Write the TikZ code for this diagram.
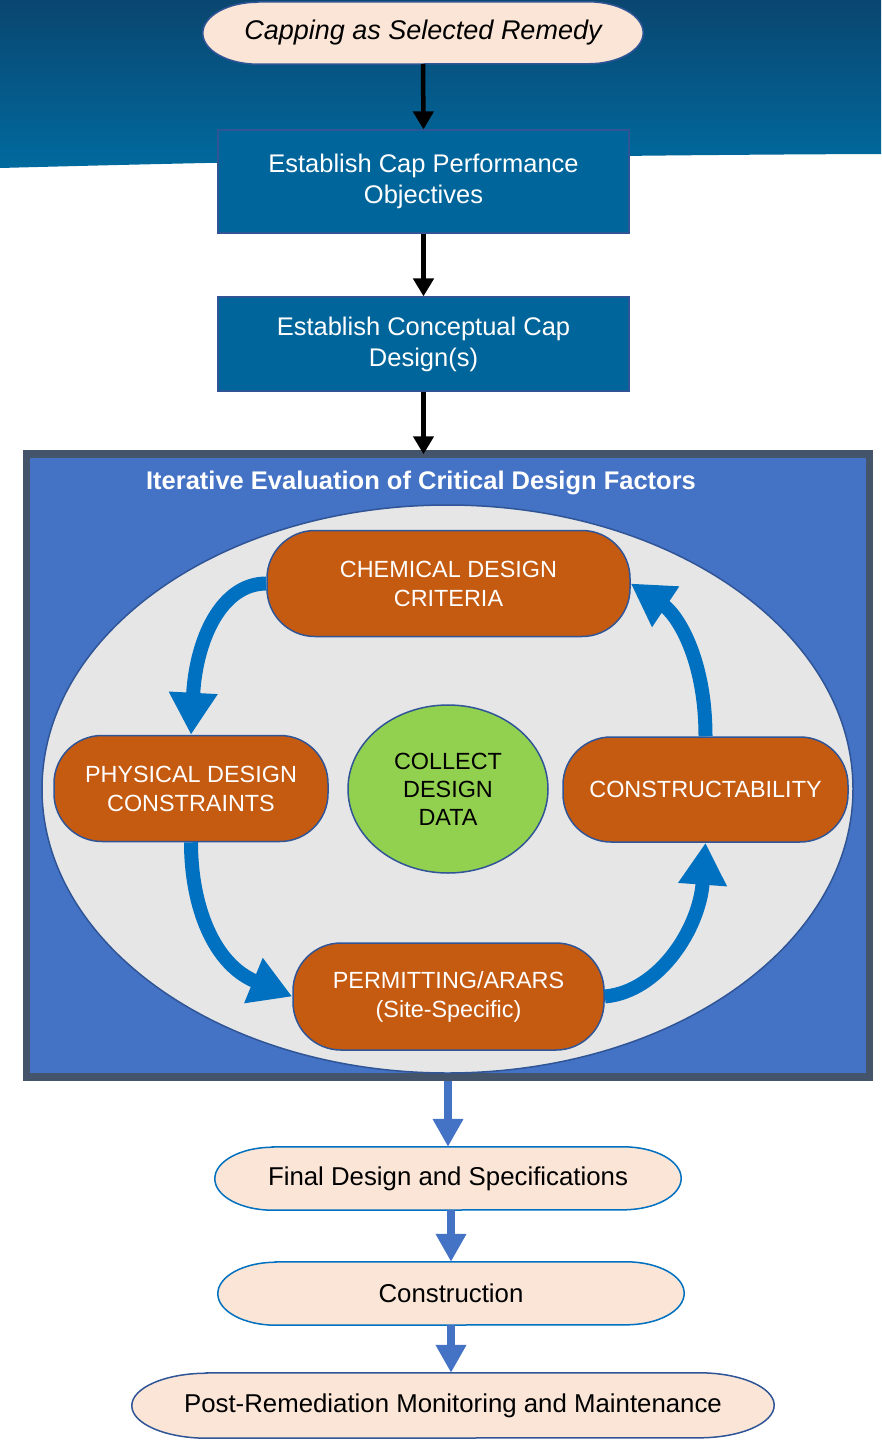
\documentclass[tikz,border=0pt]{standalone}
\usepackage{fontspec}
\setmainfont{Liberation Sans}
\usetikzlibrary{arrows.meta,shapes.geometric,backgrounds}

\definecolor{bandtop}{HTML}{0A4670}
\definecolor{bandlow}{HTML}{006A9E}
\definecolor{capblue}{HTML}{00659A}
\definecolor{edgeblue}{HTML}{2F5597}
\definecolor{peach}{HTML}{FBE5D6}
\definecolor{framefill}{HTML}{4472C4}
\definecolor{frameedge}{HTML}{44546A}
\definecolor{ovalgray}{HTML}{E6E6E6}
\definecolor{factorfill}{HTML}{C55A11}
\definecolor{datagreen}{HTML}{92D050}
\definecolor{loopblue}{HTML}{0070C0}

\begin{document}
\begin{tikzpicture}[x=1pt, y=-1pt,
        terminal/.style={inner sep=0pt, align=center, font=\fontsize{25.8}{31}\selectfont},
        terminal edge/.style={fill=peach, line width=1.5pt},
        process/.style={draw=edgeblue, line width=1.2pt, fill=capblue, text=white, inner sep=0pt, align=center, font=\fontsize{25.5}{31}\selectfont},
        frame/.style={draw=frameedge, line width=7.5pt, fill=framefill, inner sep=0pt},
        heading/.style={text=white, font=\bfseries\fontsize{25.5}{30}\selectfont},
        oval/.style={ellipse, draw=edgeblue, line width=1.5pt, fill=ovalgray, inner sep=0pt},
        factor/.style={draw=edgeblue, line width=1.5pt, fill=factorfill, text=white, rounded corners=48pt, inner sep=0pt, align=center, font=\fontsize{23.4}{29}\selectfont},
        data/.style={ellipse, draw=edgeblue, line width=1.5pt, fill=datagreen, inner sep=0pt, align=center, font=\fontsize{23.4}{28}\selectfont},
        down arrow/.style={draw, line width=4.5pt, black, -{Triangle[length=18pt,width=20pt]}},
        loop arrow/.style={draw, line width=14pt, loopblue, -{Triangle[length=42pt,width=46pt]}},
        block arrow/.style={draw, line width=8pt, framefill, -{Triangle[length=28pt,width=29pt]}},
    ]
	\useasboundingbox (0,0) rectangle (881,1440);
	\node[terminal, minimum width=440pt, minimum height=62pt, font=\itshape\fontsize{27}{32}\selectfont] (remedy) at (423,33) {Capping as Selected Remedy};
	\node[process, minimum width=411pt, minimum height=103pt] (objectives) at (423.5,181.5) {Establish Cap Performance\\Objectives};
	\node[process, minimum width=411pt, minimum height=94pt] (concept) at (423.5,344) {Establish Conceptual Cap\\Design(s)};
	\node[frame, minimum width=843pt, minimum height=623pt] (factors) at (448,765.5) {};
	\node[heading] (title) at (421,483) {Iterative Evaluation of Critical Design Factors};
	\node[oval, minimum width=811pt, minimum height=568pt] (cycle) at (447.5,789) {};
	\node[factor, minimum width=363pt, minimum height=106pt] (chemical) at (448.5,583.5) {CHEMICAL DESIGN\\CRITERIA};
	\node[factor, minimum width=274pt, minimum height=106pt] (physical) at (191,788.5) {PHYSICAL DESIGN\\CONSTRAINTS};
	\node[factor, minimum width=285pt, minimum height=105pt] (constructability) at (705.5,789.5) {CONSTRUCTABILITY};
	\node[factor, minimum width=311pt, minimum height=107pt] (permitting) at (448.5,996.5) {PERMITTING/ARARS\\(Site-Specific)};
	\node[data, minimum width=200pt, minimum height=168pt] (collect) at (448,789) {COLLECT\\DESIGN\\DATA};
	\node[terminal, minimum width=466pt, minimum height=63pt] (final) at (448,1178.5) {Final Design and Specifications};
	\node[terminal, minimum width=466pt, minimum height=63pt] (construction) at (451,1293.5) {Construction};
	\node[terminal, minimum width=642pt, minimum height=65pt] (monitoring) at (453,1405.5) {Post-Remediation Monitoring and Maintenance};
	\begin{pgfonlayer}{background}
		\shade[top color=bandtop, bottom color=bandlow] (0,0) -- (881,0) -- (881,154) .. controls (600,155) and (300,160) .. (0,168) -- cycle;
		\foreach \n/\rx/\ry/\c in {remedy/55/31/edgeblue, final/58/31.5/loopblue, construction/58/31.5/loopblue, monitoring/75/32.5/edgeblue}
			\filldraw[terminal edge, draw=\c] ([xshift=\rx pt]\n.north west) -- ([xshift=-\rx pt]\n.north east)
				arc[start angle=90, end angle=-90, x radius=\rx pt, y radius=\ry pt] -- ([xshift=\rx pt]\n.south west)
				arc[start angle=270, end angle=90, x radius=\rx pt, y radius=\ry pt] -- cycle;
	\end{pgfonlayer}
	\draw[down arrow] (remedy.south) -- (objectives.north);
	\draw[down arrow] (objectives.south) -- (concept.north);
	\draw[down arrow, shorten >=-4pt] (concept.south) -- (concept.south |- factors.north);
	\draw[loop arrow] (chemical.west) .. controls +(-45,0) and +(5,-95) .. (physical.north);
	\draw[loop arrow] (physical.south) .. controls +(0,65) and +(-78,-32) .. (permitting.west);
	\draw[loop arrow] (permitting.east) .. controls +(55,-5) and +(-6,85) .. (constructability.south);
	\draw[loop arrow] (constructability.north) .. controls +(0,-80) and +(45,30) .. (chemical.east);
	\draw[block arrow] (factors.south) -- (final.north);
	\draw[block arrow] (construction.north |- final.south) -- (construction.north);
	\draw[block arrow] (construction.south) -- (construction.south |- monitoring.north);
    \end{tikzpicture}
\end{document}
